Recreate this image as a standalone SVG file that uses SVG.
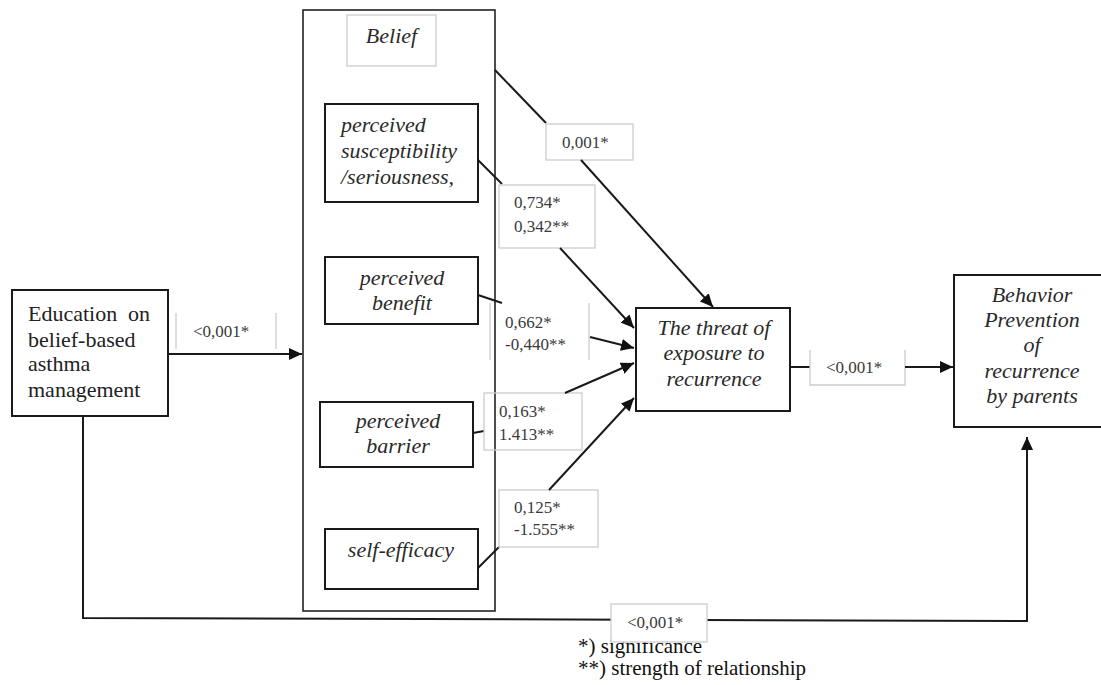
<svg xmlns="http://www.w3.org/2000/svg" width="1101" height="685" viewBox="0 0 1101 685">
<defs>
<marker id="arr" markerUnits="userSpaceOnUse" markerWidth="14" markerHeight="12" refX="13" refY="6" orient="auto">
<path d="M0,0 L13,6 L0,12 z" fill="#111"/>
</marker>
<style>
.box{fill:#fff;stroke:#1a1a1a;stroke-width:2}
.outer{fill:none;stroke:#222;stroke-width:1.6}
.lbl{fill:none;stroke:#cccccc;stroke-width:1.3}
.lblw{fill:#fff;stroke:#cccccc;stroke-width:1.3}
.ln{fill:none;stroke:#1a1a1a;stroke-width:2}
.arrow{fill:none;stroke:#1a1a1a;stroke-width:2;marker-end:url(#arr)}
.it{font-family:"Liberation Serif","Times New Roman",serif;font-style:italic;font-size:22px;fill:#2a2a2a}
.rm{font-family:"Liberation Serif","Times New Roman",serif;font-size:22px;fill:#222}
.num{font-family:"Liberation Serif","Times New Roman",serif;font-size:17px;fill:#3a3a3a}
.foot{font-family:"Liberation Serif","Times New Roman",serif;font-size:21px;fill:#111}
</style>
</defs>
<rect width="1101" height="685" fill="#fff"/>

<g id="belief-group">
<rect class="outer" x="303" y="10" width="192" height="601"/>
<rect x="347" y="15" width="89" height="51" fill="#fff" stroke="#cccccc" stroke-width="1.3"/>
<text class="it" x="391.5" y="43" text-anchor="middle">Belief</text>
</g>

<g id="education">
<rect class="box" x="12" y="290" width="156" height="126"/>
<text class="rm" x="28" y="321">Education</text>
<text class="rm" x="150" y="321" text-anchor="end">on</text>
<text class="rm" x="28" y="347">belief-based</text>
<text class="rm" x="28" y="371">asthma</text>
<text class="rm" x="28" y="397">management</text>
</g>

<g id="susceptibility">
<rect class="box" x="325" y="104" width="153" height="98"/>
<text class="it" x="341" y="132">perceived</text>
<text class="it" x="341" y="158">susceptibility</text>
<text class="it" x="341" y="184">/seriousness,</text>
</g>

<g id="benefit">
<rect class="box" x="325" y="257" width="153" height="67"/>
<text class="it" x="402" y="285" text-anchor="middle">perceived</text>
<text class="it" x="402" y="310" text-anchor="middle">benefit</text>
</g>

<g id="barrier">
<rect class="box" x="320" y="402" width="153" height="65"/>
<text class="it" x="398" y="428" text-anchor="middle">perceived</text>
<text class="it" x="398" y="453" text-anchor="middle">barrier</text>
</g>

<g id="self-efficacy">
<rect class="box" x="325" y="529" width="153" height="60"/>
<text class="it" x="401" y="557" text-anchor="middle">self-efficacy</text>
</g>

<g id="threat">
<rect class="box" x="636" y="308" width="154" height="103"/>
<text class="it" x="714" y="335" text-anchor="middle">The threat of</text>
<text class="it" x="714" y="360" text-anchor="middle">exposure to</text>
<text class="it" x="714" y="386" text-anchor="middle">recurrence</text>
</g>

<g id="behavior">
<rect class="box" x="954" y="275" width="152" height="152"/>
<text class="it" x="1032" y="302" text-anchor="middle">Behavior</text>
<text class="it" x="1032" y="327" text-anchor="middle">Prevention</text>
<text class="it" x="1032" y="352" text-anchor="middle">of</text>
<text class="it" x="1032" y="378" text-anchor="middle">recurrence</text>
<text class="it" x="1032" y="403" text-anchor="middle">by parents</text>
</g>

<g id="footnote">
<text class="foot" x="578" y="653">*) significance</text>
<text class="foot" x="578" y="675">**) strength of relationship</text>
</g>

<g id="connectors">
<line class="arrow" x1="168" y1="354" x2="302" y2="354"/>
<line class="lbl" x1="176" y1="313" x2="176" y2="349"/>
<line class="lbl" x1="276" y1="313" x2="276" y2="349"/>
<text class="num" x="193" y="337">&lt;0,001*</text>

<line class="ln" x1="495" y1="70" x2="546" y2="123"/>
<rect class="lbl" x="546" y="124" width="87" height="36"/>
<text class="num" x="562" y="148">0,001*</text>
<line class="arrow" x1="581" y1="160" x2="713" y2="307"/>

<line class="ln" x1="478" y1="160" x2="502" y2="184"/>
<rect class="lbl" x="499" y="185" width="96" height="63"/>
<text class="num" x="514" y="208">0,734*</text>
<text class="num" x="514" y="232">0,342**</text>
<line class="arrow" x1="560" y1="248" x2="634" y2="328"/>

<line class="ln" x1="478" y1="295" x2="502" y2="303"/>
<line class="lbl" x1="490" y1="303" x2="490" y2="360"/>
<line class="lbl" x1="589" y1="303" x2="589" y2="360"/>
<text class="num" x="505" y="328">0,662*</text>
<text class="num" x="505" y="350">-0,440**</text>
<line class="arrow" x1="590" y1="337" x2="634" y2="348"/>

<line class="ln" x1="473" y1="433" x2="484" y2="431"/>
<rect class="lbl" x="484" y="393" width="98" height="57"/>
<text class="num" x="499" y="417">0,163*</text>
<text class="num" x="499" y="440">1.413**</text>
<line class="arrow" x1="565" y1="393" x2="634" y2="363"/>

<line class="ln" x1="478" y1="568" x2="499" y2="547"/>
<rect class="lbl" x="499" y="490" width="99" height="57"/>
<text class="num" x="514" y="513">0,125*</text>
<text class="num" x="514" y="535">-1.555**</text>
<line class="arrow" x1="549" y1="490" x2="634" y2="398"/>

<line class="ln" x1="790" y1="367" x2="810" y2="367"/>
<path class="lbl" d="M810,350 V385 H905 V350"/>
<text class="num" x="826" y="373">&lt;0,001*</text>
<line class="arrow" x1="905" y1="367" x2="953" y2="367"/>

<path class="arrow" d="M83,416 V618 L1027,621 V437"/>
<rect class="lblw" x="611" y="604" width="96" height="38"/>
<text class="num" x="627" y="628">&lt;0,001*</text>
</g>
</svg>
